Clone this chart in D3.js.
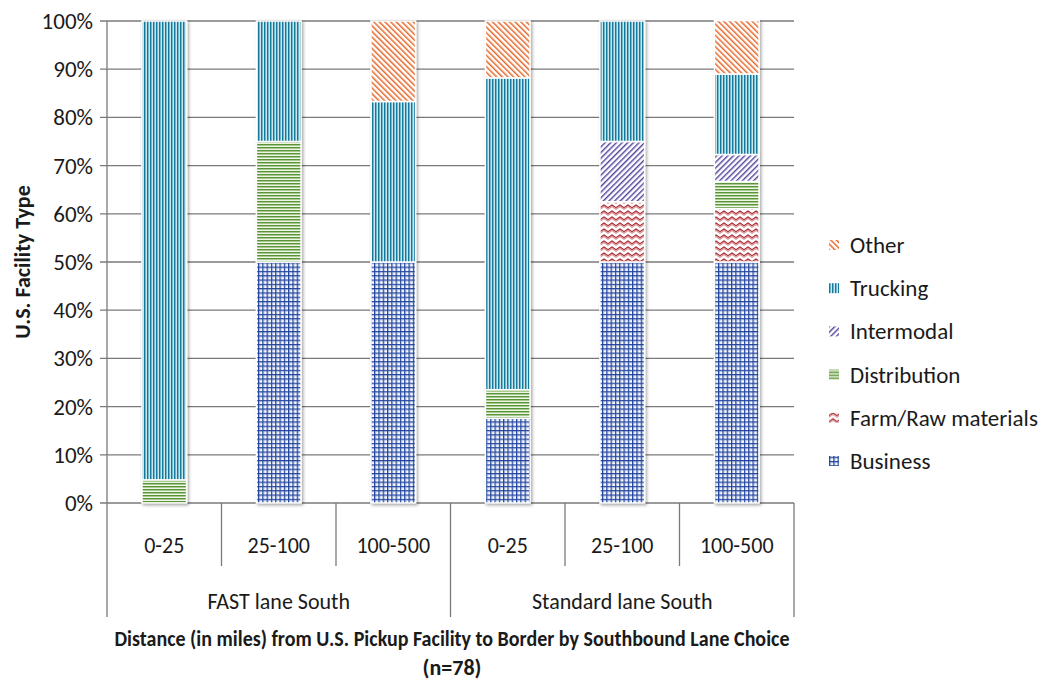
<!DOCTYPE html>
<html>
<head>
<meta charset="utf-8">
<script src="https://cdn.jsdelivr.net/npm/d3@7"></script>
<style>
  html, body { margin: 0; padding: 0; background: #fff; }
  svg { display: block; }
  text { font-family: Calibri, Carlito, Lato, "Open Sans", sans-serif; fill: #1a1a1a; }
</style>
</head>
<body>
<svg id="chart" width="1047" height="680"></svg>
<script>
// Lane groups and distance bands along the x axis
const groups = ["FAST lane South", "Standard lane South"];
const distances = ["0-25", "25-100", "100-500"];

// Share of U.S. pickup facilities by type (percent), one value per column
const business     = [0,    50, 50,   17.6, 50,   50];
const farm         = [0,    0,  0,    0,    12.5, 11.1];
const distribution = [4.8,  25, 0,    5.9,  0,    5.6];
const intermodal   = [0,    0,  0,    0,    12.5, 5.6];
const trucking     = [95.2, 25, 33.3, 64.7, 25,   16.7];
const other        = [0,    0,  16.7, 11.8, 0,    11.1];

// Stack order, bottom to top
const seriesNames = ["Business", "Farm/Raw materials", "Distribution", "Intermodal", "Trucking", "Other"];
const seriesValues = [business, farm, distribution, intermodal, trucking, other];

const yTicks = [0, 10, 20, 30, 40, 50, 60, 70, 80, 90, 100];

const yTitle = "U.S. Facility Type";
const xTitle = ["Distance (in miles) from U.S. Pickup Facility to Border by Southbound Lane Choice", "(n=78)"];

// ---- build rows ----
const columns = [];
groups.forEach(g => distances.forEach(d => columns.push({ group: g, dist: d })));
const rows = columns.map((c, i) => {
  const r = { idx: i };
  seriesNames.forEach((s, k) => { r[s] = seriesValues[k][i]; });
  return r;
});
const stacked = d3.stack().keys(seriesNames)(rows);

// ---- geometry ----
const plotLeft = 107, plotRight = 794, plotTop = 21, plotBottom = 503;
const svg = d3.select("#chart");

const x = d3.scaleBand()
  .domain(d3.range(columns.length))
  .range([plotLeft, plotRight])
  .paddingInner(0.61)
  .paddingOuter(0.305);
const step = x.step();
const y = d3.scaleLinear().domain([0, 100]).range([plotBottom, plotTop]);

// ---- fill patterns ----
const defs = svg.append("defs");

function stripePattern(id, size, stripes, rotate) {
  const p = defs.append("pattern")
    .attr("id", id)
    .attr("patternUnits", "userSpaceOnUse")
    .attr("width", size).attr("height", size);
  if (rotate) p.attr("patternTransform", `rotate(${rotate})`);
  p.append("rect").attr("width", size).attr("height", size).attr("fill", "#fff");
  stripes.forEach(s => p.append("rect")
    .attr("x", s.x).attr("y", 0).attr("width", s.w).attr("height", size).attr("fill", s.c));
  return p;
}

// Trucking: vertical teal stripes
stripePattern("pat-trucking", 3, [
  { x: 0, w: 1, c: "#17789b" },
  { x: 1, w: 1.2, c: "#6fb7cc" },
  { x: 2.2, w: 0.8, c: "#c8e4ec" }
]);

// Other: "\" orange hatch
stripePattern("pat-other", 4, [
  { x: 0, w: 1, c: "#e0662a" },
  { x: 1, w: 1, c: "#f5b797" }
], -45);

// Intermodal: "/" purple hatch
stripePattern("pat-intermodal", 4, [
  { x: 0, w: 1, c: "#53469c" },
  { x: 1, w: 1, c: "#b4acd6" }
], 45);

// Distribution: horizontal green stripes
(function () {
  const p = defs.append("pattern").attr("id", "pat-distribution")
    .attr("patternUnits", "userSpaceOnUse").attr("width", 4).attr("height", 3);
  p.append("rect").attr("width", 4).attr("height", 3).attr("fill", "#fff");
  p.append("rect").attr("y", 0).attr("width", 4).attr("height", 1).attr("fill", "#5a9437");
  p.append("rect").attr("y", 1).attr("width", 4).attr("height", 1.2).attr("fill", "#a9c98f");
})();

// Business: blue grid
(function () {
  const p = defs.append("pattern").attr("id", "pat-business")
    .attr("patternUnits", "userSpaceOnUse").attr("width", 4.3).attr("height", 4.3);
  p.append("rect").attr("width", 4.3).attr("height", 4.3).attr("fill", "#fff");
  p.append("rect").attr("x", 1).attr("width", 1).attr("height", 4.3).attr("fill", "#a3b3dc");
  p.append("rect").attr("y", 1).attr("width", 4.3).attr("height", 1).attr("fill", "#a3b3dc");
  p.append("rect").attr("x", 0).attr("width", 1).attr("height", 4.3).attr("fill", "#1f429b");
  p.append("rect").attr("y", 0).attr("width", 4.3).attr("height", 1).attr("fill", "#1f429b");
})();

// Farm/Raw materials: red zigzag
(function () {
  const p = defs.append("pattern").attr("id", "pat-farm")
    .attr("patternUnits", "userSpaceOnUse").attr("width", 8).attr("height", 6);
  p.append("rect").attr("width", 8).attr("height", 6).attr("fill", "#fff");
  p.append("path").attr("d", "M-0.5,5.5 L4,2.5 L8.5,5.5").attr("fill", "none")
    .attr("stroke", "#dd9496").attr("stroke-width", 1.2);
  p.append("path").attr("d", "M-0.5,4 L4,1 L8.5,4").attr("fill", "none")
    .attr("stroke", "#a8282e").attr("stroke-width", 1.1);
})();

const patternFor = {
  "Business": "url(#pat-business)",
  "Farm/Raw materials": "url(#pat-farm)",
  "Distribution": "url(#pat-distribution)",
  "Intermodal": "url(#pat-intermodal)",
  "Trucking": "url(#pat-trucking)",
  "Other": "url(#pat-other)"
};

// soft shadow under each bar
const shadow = defs.append("filter").attr("id", "barShadow")
  .attr("x", "-20%").attr("y", "-5%").attr("width", "150%").attr("height", "115%");
shadow.append("feDropShadow")
  .attr("dx", 1.5).attr("dy", 1.5).attr("stdDeviation", 1.6)
  .attr("flood-color", "#000").attr("flood-opacity", 0.35);

// ---- gridlines and value axis ----
const gridColor = "#7a7a7a";
svg.append("g").selectAll("line").data(yTicks).join("line")
  .attr("x1", plotLeft - 7).attr("x2", plotRight)
  .attr("y1", d => y(d)).attr("y2", d => y(d))
  .attr("stroke", gridColor).attr("stroke-width", 1.3);

svg.append("line")
  .attr("x1", plotLeft).attr("x2", plotLeft)
  .attr("y1", y(100)).attr("y2", y(0))
  .attr("stroke", gridColor).attr("stroke-width", 1.3);

svg.append("g").selectAll("text").data(yTicks).join("text")
  .attr("x", plotLeft - 14).attr("y", d => y(d))
  .attr("dy", "0.35em")
  .attr("text-anchor", "end")
  .style("font-size", "23px")
  .text(d => d + "%");

// ---- stacked bars ----
const barGroups = svg.append("g").selectAll("g.bar")
  .data(rows).join("g")
  .attr("class", "bar")
  .attr("filter", "url(#barShadow)");

barGroups.each(function (row, i) {
  const g = d3.select(this);
  stacked.forEach(layer => {
    const seg = layer[i];
    if (seg[1] - seg[0] <= 0) return;
    g.append("rect")
      .attr("x", x(i))
      .attr("width", x.bandwidth())
      .attr("y", y(seg[1]))
      .attr("height", y(seg[0]) - y(seg[1]))
      .attr("fill", patternFor[layer.key])
      .attr("stroke", "#fff")
      .attr("stroke-width", 1.5);
  });
});

// ---- category axis (two levels) ----
const catAxis = svg.append("g");
const innerBottom = 566, outerBottom = 617;
d3.range(columns.length + 1).forEach(k => {
  const xx = plotLeft + k * step;
  const isOuter = k % distances.length === 0;
  catAxis.append("line")
    .attr("x1", xx).attr("x2", xx)
    .attr("y1", plotBottom).attr("y2", isOuter ? outerBottom : innerBottom)
    .attr("stroke", gridColor).attr("stroke-width", 1.3);
});

catAxis.selectAll("text.dist").data(columns).join("text")
  .attr("class", "dist")
  .attr("x", (d, i) => x(i) + x.bandwidth() / 2)
  .attr("y", 545)
  .attr("dy", "0.35em")
  .attr("text-anchor", "middle")
  .style("font-size", "22px")
  .text(d => d.dist);

catAxis.selectAll("text.grp").data(groups).join("text")
  .attr("class", "grp")
  .attr("x", (d, i) => plotLeft + (i * distances.length + distances.length / 2) * step)
  .attr("y", 601)
  .attr("dy", "0.35em")
  .attr("text-anchor", "middle")
  .style("font-size", "22px")
  .text(d => d);

// ---- axis titles ----
svg.append("text")
  .attr("transform", `translate(22,${(plotTop + plotBottom) / 2}) rotate(-90)`)
  .attr("text-anchor", "middle")
  .attr("dy", "0.35em")
  .style("font-size", "22px")
  .style("font-weight", "bold")
  .text(yTitle);

const xTitleText = svg.selectAll("text.xtitle").data(xTitle).join("text")
  .attr("class", "xtitle")
  .attr("x", 452)
  .attr("y", (d, i) => 638 + i * 29)
  .attr("dy", "0.35em")
  .attr("text-anchor", "middle")
  .style("font-size", "22px")
  .style("font-weight", "bold")
  .text(d => d);
// the long first line is set in a condensed width
xTitleText.filter((d, i) => i === 0)
  .attr("textLength", 675)
  .attr("lengthAdjust", "spacingAndGlyphs");

// ---- legend (top to bottom: reverse stack order) ----
const legendItems = seriesNames.slice().reverse();
const legend = svg.append("g").selectAll("g").data(legendItems).join("g")
  .attr("transform", (d, i) => `translate(829,${245 + i * 43.2})`);
legend.append("rect")
  .attr("x", 0).attr("y", -5).attr("width", 10).attr("height", 10)
  .attr("fill", d => patternFor[d]);
legend.append("text")
  .attr("x", 21).attr("y", 0).attr("dy", "0.35em")
  .style("font-size", "23px")
  .text(d => d);
</script>
</body>
</html>
